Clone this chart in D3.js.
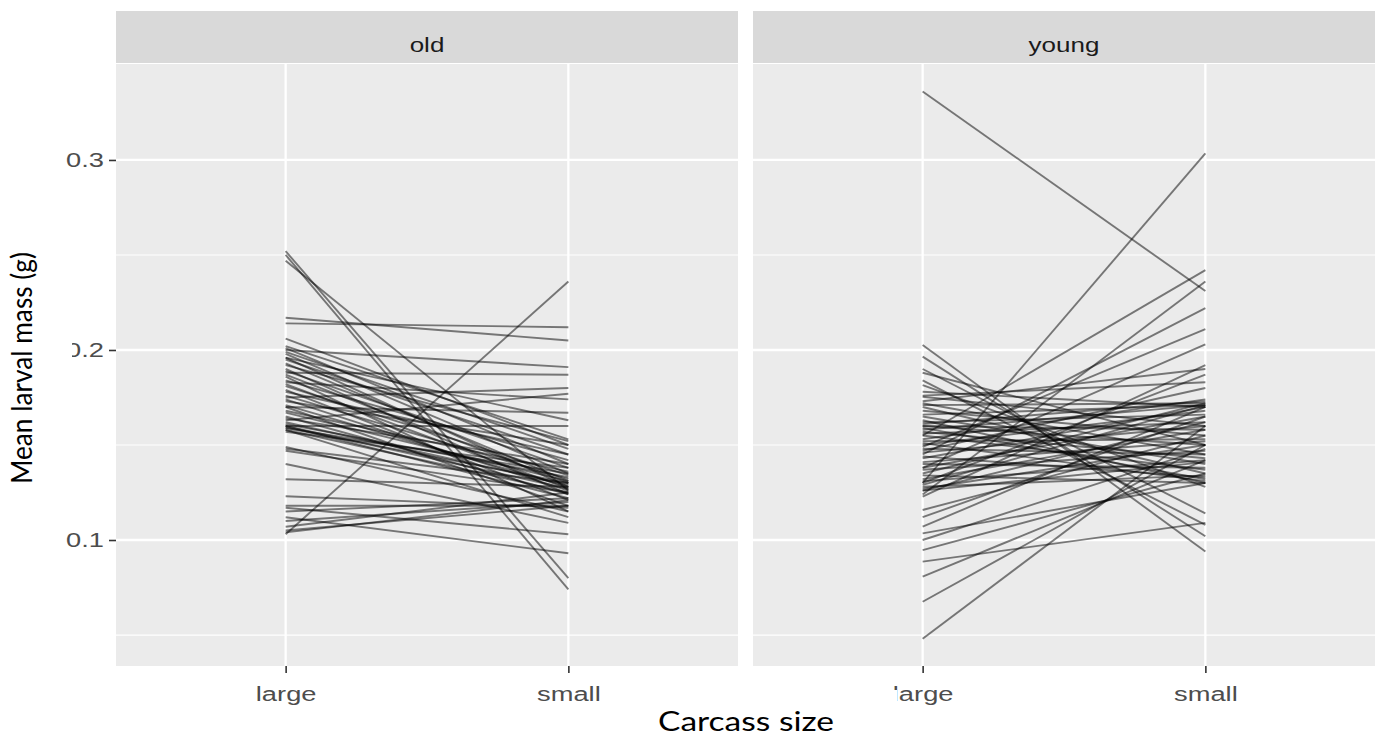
<!DOCTYPE html>
<html><head><meta charset="utf-8">
<script src="https://cdn.jsdelivr.net/npm/d3@7"></script>
<style>body{margin:0;background:#fff}</style></head>
<body>
<svg id="chart" width="1381" height="740"></svg>
<script>
// ---- data ----
const panels = ["old", "young"];
const categories = ["large", "small"];
const yTicks = [0.1, 0.2, 0.3];
const yMinor = [0.05, 0.15, 0.25];

const oldLarge = [0.252,0.250,0.247,0.217,0.214,0.206,0.103,0.104,0.105,0.107,0.110,0.112,0.117,0.115,0.118,0.123,0.132,0.140,0.147,0.148,0.149,
  0.200,0.188,0.175,0.163,0.183,0.170,0.196,0.160,
  0.202,0.201,0.199,0.198,0.196,0.195,0.193,0.192,0.190,0.189,0.187,0.186,0.184,0.182,0.181,0.179,0.178,0.176,0.174,0.173,0.171,0.170,0.168,0.167,0.165,0.164,0.162,0.161,0.160,0.160,0.159,0.159,0.158,0.158,0.157];
const oldSmall = [0.080,0.074,0.126,0.205,0.212,0.150,0.236,0.121,0.118,0.125,0.120,0.093,0.103,0.122,0.118,0.117,0.128,0.109,0.125,0.130,0.115,
  0.191,0.187,0.180,0.177,0.174,0.167,0.163,0.160,
  0.153,0.140,0.148,0.135,0.128,0.145,0.131,0.152,0.124,0.138,0.130,0.115,0.142,0.127,0.134,0.121,0.145,0.132,0.126,0.150,0.128,0.118,0.136,0.131,0.124,0.140,0.129,0.133,0.127,0.122,0.135,0.130,0.112,0.125,0.138];

const youngLarge = [0.336,0.130,0.155,0.124,0.145,0.149,0.138,0.048,0.0675,0.0807,0.0886,0.0947,0.100,0.1035,0.107,0.112,0.1158,0.1228,0.2026,0.1965,0.190,0.184,0.188,
  0.178,0.1754,0.172,0.171,0.170,0.168,0.166,0.165,0.163,0.162,0.161,0.160,0.160,0.159,0.158,0.157,0.156,0.155,0.153,0.152,0.151,0.150,0.148,0.147,0.146,0.144,0.143,0.141,0.140,0.138,0.137,0.135,0.134,0.132,0.131,0.130,0.129,0.128,0.127,0.126,0.126,0.176,0.1815,0.173];
const youngSmall = [0.231,0.3035,0.242,0.236,0.222,0.211,0.203,0.160,0.150,0.142,0.109,0.135,0.148,0.130,0.170,0.165,0.155,0.192,0.094,0.102,0.114,0.108,0.150,
  0.170,0.160,0.145,0.172,0.135,0.155,0.171,0.140,0.130,0.166,0.173,0.150,0.158,0.132,0.171,0.143,0.162,0.137,0.174,0.153,0.131,0.168,0.145,0.180,0.160,0.133,0.170,0.152,0.138,0.165,0.147,0.172,0.130,0.158,0.142,0.187,0.171,0.134,0.150,0.162,0.141,0.183,0.128,0.190];

const seriesLarge = {old: oldLarge, young: youngLarge};
const seriesSmall = {old: oldSmall, young: youngSmall};

// ---- layout ----
const svg = d3.select("#chart");
const panelW = 622, panelTop = 64, panelBot = 666, stripTop = 11;
const panelX = {old: 116, young: 753};
const textSX = 1.3;
const tickFont = "Liberation Sans, Arial, sans-serif";

const y = d3.scaleLinear().domain([0.0337, 0.3505]).range([panelBot, panelTop]);

panels.forEach(p => {
  const x0 = panelX[p];
  const x = d3.scalePoint().domain(categories).range([x0, x0 + panelW]).padding(0.6);
  const g = svg.append("g");
  // strip
  g.append("rect").attr("x", x0).attr("y", stripTop).attr("width", panelW).attr("height", panelTop - stripTop - 1).attr("fill", "#d9d9d9");
  g.append("text").attr("transform", `translate(${x0 + panelW/2},45) scale(${textSX},1)`)
    .attr("text-anchor", "middle").attr("dominant-baseline", "central")
    .attr("font-family", tickFont).attr("font-size", 20).attr("fill", "#1a1a1a").text(p);
  // panel
  g.append("rect").attr("x", x0).attr("y", panelTop).attr("width", panelW).attr("height", panelBot - panelTop).attr("fill", "#ebebeb");
  g.selectAll(".minor").data(yMinor).join("line")
    .attr("x1", x0).attr("x2", x0 + panelW).attr("y1", d => y(d)).attr("y2", d => y(d))
    .attr("stroke", "#fff").attr("stroke-width", 1.2);
  g.selectAll(".major").data(yTicks).join("line")
    .attr("x1", x0).attr("x2", x0 + panelW).attr("y1", d => y(d)).attr("y2", d => y(d))
    .attr("stroke", "#fff").attr("stroke-width", 2.3);
  g.selectAll(".vmajor").data(categories).join("line")
    .attr("x1", d => x(d)).attr("x2", d => x(d)).attr("y1", panelTop).attr("y2", panelBot)
    .attr("stroke", "#fff").attr("stroke-width", 2.3);
  // lines
  const L = seriesLarge[p], S = seriesSmall[p];
  g.append("g").selectAll("line").data(L.map((v, i) => [v, S[i]])).join("line")
    .attr("x1", x("large")).attr("x2", x("small"))
    .attr("y1", d => y(d[0])).attr("y2", d => y(d[1]))
    .attr("stroke", "#000").attr("stroke-opacity", 0.5).attr("stroke-width", 1.9);
  // x axis
  const ax = g.append("g").attr("transform", `translate(0,${panelBot})`)
    .call(d3.axisBottom(x).tickSize(7).tickPadding(13));
  ax.select(".domain").remove();
  ax.selectAll("line").attr("stroke", "#333").attr("stroke-width", 1.6);
  ax.selectAll("text").each(function() {
    const t = d3.select(this);
    const ty = +t.attr("y");
    t.attr("y", 0).attr("transform", `translate(0,${ty}) scale(${textSX},1)`);
  }).attr("font-family", tickFont).attr("font-size", 21).attr("fill", "#4d4d4d");
});

// y axis
const ay = svg.append("g").attr("transform", `translate(${panelX.old},0)`)
  .call(d3.axisLeft(y).tickValues(yTicks).tickFormat(d3.format(".1f")).tickSize(7).tickPadding(5));
ay.select(".domain").remove();
ay.selectAll("line").attr("stroke", "#333").attr("stroke-width", 1.6);
ay.selectAll("text").each(function() {
  const t = d3.select(this);
  const tx = +t.attr("x");
  t.attr("x", 0).attr("transform", `translate(${tx},0) scale(${textSX},1)`);
}).attr("font-family", tickFont).attr("font-size", 21).attr("fill", "#4d4d4d");

// axis titles (overlaid label boxes)
svg.append("rect").attr("x", 0).attr("y", 240).attr("width", 72).attr("height", 252).attr("fill", "#fff");
svg.append("text").attr("transform", "translate(32,368) rotate(-90)")
  .attr("text-anchor", "middle").attr("font-family", "Lato, Open Sans, sans-serif").attr("font-size", 28)
  .attr("textLength", 232).attr("lengthAdjust", "spacingAndGlyphs").attr("fill", "#000")
  .text("Mean larval mass (g)");
svg.append("rect").attr("x", 605).attr("y", 690).attr("width", 292).attr("height", 50).attr("fill", "#fff");
svg.append("text").attr("x", 746).attr("y", 731)
  .attr("text-anchor", "middle").attr("font-family", "Lato, Open Sans, sans-serif").attr("font-size", 27)
  .attr("textLength", 176).attr("lengthAdjust", "spacingAndGlyphs").attr("fill", "#000")
  .text("Carcass size");
</script>
</body></html>
